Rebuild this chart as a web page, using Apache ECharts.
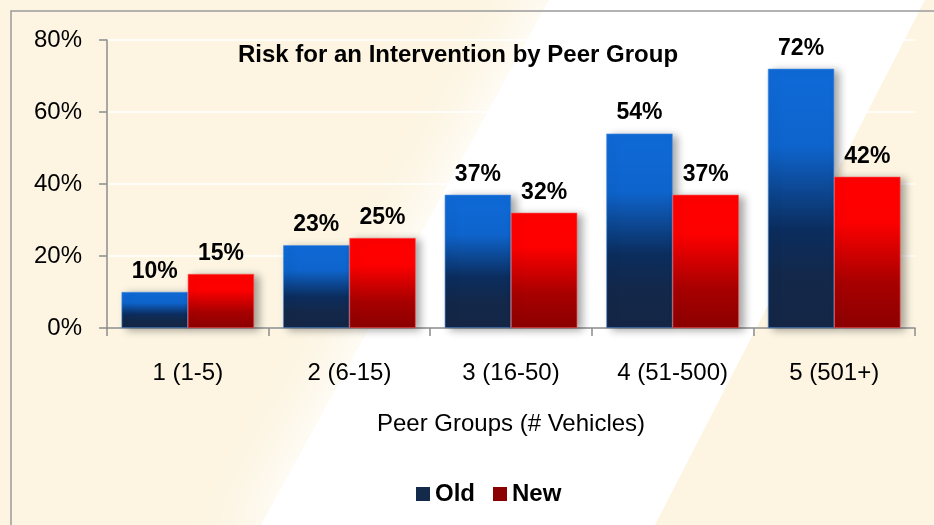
<!DOCTYPE html>
<html>
<head>
    <meta charset="utf-8">
    <title>Risk for an Intervention by Peer Group</title>
    <script src="https://cdn.jsdelivr.net/npm/echarts@6/dist/echarts.min.js"></script>
    <style>
        html, body { margin: 0; padding: 0; background: #fdf5e2; }
    </style>
</head>
<body>
    <div id="main" style="width: 934px;height:525px;"></div>
    <script type="text/javascript">
        // data
        var groups = ['1 (1-5)', '2 (6-15)', '3 (16-50)', '4 (51-500)', '5 (501+)'];
        var oldRisk = [10, 23, 37, 54, 72];
        var newRisk = [15, 25, 32, 37, 42];
        var yTicks = [0, 20, 40, 60, 80];

        var narrow = "'Liberation Sans Narrow', 'Arial Narrow', 'Liberation Sans', sans-serif";

        var blueFill = new echarts.graphic.LinearGradient(0, 0, 0, 1, [
            { offset: 0, color: '#0f6ad8' },
            { offset: 0.3, color: '#0e64cc' },
            { offset: 0.62, color: '#0b2d5e' },
            { offset: 0.8, color: '#13284a' },
            { offset: 1, color: '#152646' }
        ]);
        var redFill = new echarts.graphic.LinearGradient(0, 0, 0, 1, [
            { offset: 0, color: '#ff0000' },
            { offset: 0.3, color: '#fd0000' },
            { offset: 0.7, color: '#a80000' },
            { offset: 1, color: '#8c0000' }
        ]);

        var myChart = echarts.init(document.getElementById('main'));

        var option = {
            backgroundColor: '#fdf5e2',
            animation: false,
            graphic: [
                // soft white diagonal band
                {
                    type: 'polygon', z: -10, silent: true,
                    shape: { points: [[560, -20], [935, -20], [650, 545], [250, 545]] },
                    style: { fill: '#ffffff', shadowColor: '#ffffff', shadowBlur: 60, shadowOffsetX: -10 }
                },
                {
                    type: 'polygon', z: -9, silent: true,
                    shape: { points: [[925, 0], [934, 0], [934, 525], [655, 525]] },
                    style: { fill: '#fdf5e2' }
                },
                // frame
                {
                    type: 'rect', z: -8, silent: true,
                    shape: { x: 11, y: 11, width: 1000, height: 1000 },
                    style: { fill: 'none', stroke: '#9a9a9a', lineWidth: 1.5 }
                }
            ],
            title: {
                text: 'Risk for an Intervention by Peer Group',
                left: 453, top: 38, textAlign: 'center',
                textStyle: { fontFamily: narrow, fontSize: 24, fontWeight: 'bold', color: '#000' }
            },
            legend: {
                bottom: 14, left: 411,
                itemWidth: 14, itemHeight: 14, itemGap: 18,
                icon: 'rect',
                textStyle: { fontFamily: narrow, fontSize: 24, fontWeight: 'bold', color: '#000' },
                data: [
                    { name: 'Old', itemStyle: { color: '#132a4a', borderWidth: 0, shadowBlur: 0 } },
                    { name: 'New', itemStyle: { color: '#8b0000', borderWidth: 0, shadowBlur: 0 } }
                ]
            },
            grid: { left: 107, right: 19, top: 40, bottom: 197 },
            xAxis: {
                type: 'category',
                data: groups,
                name: 'Peer Groups (# Vehicles)',
                nameLocation: 'middle',
                nameGap: 84,
                nameTextStyle: { fontFamily: narrow, fontSize: 24, color: '#000' },
                axisLine: { lineStyle: { color: '#8c8c8c', width: 1.5 } },
                axisTick: { show: true, length: 8, lineStyle: { color: '#8c8c8c', width: 1.5 } },
                axisLabel: { margin: 33, fontFamily: narrow, fontSize: 24, color: '#000' }
            },
            yAxis: {
                type: 'value',
                min: yTicks[0], max: yTicks[yTicks.length - 1], interval: 20,
                axisLine: { show: true, lineStyle: { color: '#8c8c8c', width: 1.5 } },
                axisTick: { show: true, length: 8, lineStyle: { color: '#8c8c8c', width: 1.5 } },
                splitLine: { lineStyle: { color: '#ffffff', width: 1.5 } },
                axisLabel: {
                    margin: 25, fontFamily: narrow, fontSize: 24, color: '#000',
                    formatter: '{value}%'
                }
            },
            series: [
                {
                    name: 'Old', type: 'bar', data: oldRisk,
                    barGap: '0%', barCategoryGap: '18%',
                    itemStyle: {
                        color: blueFill,
                        borderColor: '#4d8fe0', borderWidth: 0.6,
                        shadowColor: 'rgba(0,0,0,0.35)', shadowBlur: 8, shadowOffsetX: 5, shadowOffsetY: 2
                    },
                    label: {
                        show: true, position: 'top', distance: 9,
                        formatter: '{c}%',
                        fontFamily: narrow, fontSize: 23, fontWeight: 'bold', color: '#000'
                    }
                },
                {
                    name: 'New', type: 'bar', data: newRisk,
                    itemStyle: {
                        color: redFill,
                        borderColor: '#ff5050', borderWidth: 0.6,
                        shadowColor: 'rgba(0,0,0,0.35)', shadowBlur: 8, shadowOffsetX: 5, shadowOffsetY: 2
                    },
                    label: {
                        show: true, position: 'top', distance: 9,
                        formatter: '{c}%',
                        fontFamily: narrow, fontSize: 23, fontWeight: 'bold', color: '#000'
                    }
                }
            ]
        };

        myChart.setOption(option);
    </script>
</body>
</html>
